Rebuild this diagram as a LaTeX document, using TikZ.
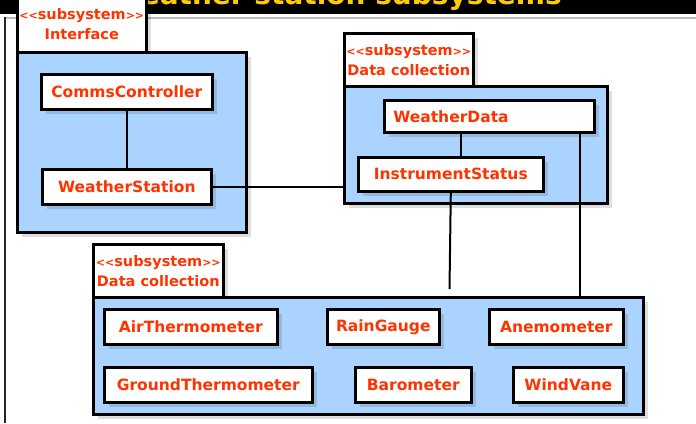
\documentclass[tikz,border=0pt]{standalone}
\usepackage{fontspec}
\setmainfont{DejaVu Sans}
\usepackage{xcolor}
\usetikzlibrary{shadows}
\definecolor{umlred}{RGB}{255,51,0}
\definecolor{pkgblue}{RGB}{170,212,255}
\definecolor{titleyellow}{RGB}{255,204,0}
\newcommand{\clsfont}{\fontsize{15.5}{18}\selectfont\bfseries}
\newcommand{\tabfont}{\fontsize{14.5}{20}\selectfont\bfseries}
\newcommand{\brk}[1]{{\fontsize{11}{11}\selectfont#1}}
\newcommand{\stereo}{\brk{<}\brk{<}subsystem\brk{>}\brk{>}}
\tikzset{
  shade/.style={drop shadow={shadow xshift=5pt,shadow yshift=-5pt,fill=black,opacity=0.13}},
  pkg/.style={draw,line width=2.6pt,fill=pkgblue,inner sep=0pt,anchor=north west,shade},
  pkgtab/.style={draw,line width=2.6pt,fill=white,text=umlred,font=\tabfont,align=center,inner sep=0pt,anchor=north west,shade},
  cls/.style={draw,line width=2.6pt,fill=white,text=umlred,font=\clsfont,inner sep=0pt,anchor=north west,shade},
  link/.style={line width=2pt}
}
\begin{document}
\begin{tikzpicture}[x=1pt,y=-1pt]
\useasboundingbox (0,0) rectangle (696,423);
\clip (0,0) rectangle (696,423);
\fill[white] (0,0) rectangle (696,423);
% slide frame
\begin{scope}
\clip (0,0) rectangle (696,14);
\fill[black] (0,0) rectangle (696,14);
\node[anchor=base east,text=titleyellow,font=\fontsize{28}{28}\selectfont\bfseries,inner sep=0pt] (title) at (562,5) {Weather station subsystems};
\end{scope}
\draw[gray!55,line width=1.5pt] (5,18) -- (696,18);
\draw[black!85,line width=1.5pt] (5,17) -- (5,423);
% packages
\node[pkgtab,minimum width=129pt,minimum height=56pt] (iftab) at (16,-5) {\stereo\\Interface};
\node[pkg,minimum width=229pt,minimum height=180pt] (ifbox) at (16,51) {};
\node[pkgtab,minimum width=129pt,minimum height=53pt] (dctab) at (343,32) {\stereo\\Data collection};
\node[pkg,minimum width=263pt,minimum height=117pt] (dcbox) at (343,85) {};
\node[pkgtab,minimum width=130pt,minimum height=54pt] (senstab) at (92,243) {\stereo\\Data collection};
\node[pkg,minimum width=550pt,minimum height=117pt] (sensbox) at (92,296) {};
% classes
\node[cls,minimum width=171pt,minimum height=35pt] (cc) at (40,73) {CommsController};
\node[cls,minimum width=169pt,minimum height=35pt] (ws) at (41,168) {WeatherStation};
\node[cls,text width=192pt,align=left,inner xsep=9pt,minimum height=32pt] (wd) at (383,99) {WeatherData};
\node[cls,minimum width=185pt,minimum height=34pt] (is) at (357,156) {InstrumentStatus};
\node[cls,minimum width=173pt,minimum height=35pt] (air) at (103,308) {AirThermometer};
\node[cls,minimum width=112pt,minimum height=35pt] (rain) at (326,308) {RainGauge};
\node[cls,minimum width=134pt,minimum height=35pt] (anemo) at (488,308) {Anemometer};
\node[cls,minimum width=208pt,minimum height=35pt] (ground) at (103,366) {GroundThermometer};
\node[cls,minimum width=116pt,minimum height=35pt] (baro) at (354,366) {Barometer};
\node[cls,minimum width=110pt,minimum height=35pt] (vane) at (512,366) {WindVane};
% links
\coordinate (isend) at (449.5,289);
\draw[link] (cc) -- (ws);
\draw[link] (ws.east) -- (ws.east -| dcbox.west);
\draw[link] ([xshift=10pt]is.north) -- ([xshift=10pt]is.north |- wd.south);
\draw[link] (is.south) -- (isend);
\draw[link] ([xshift=-16pt]wd.south east) -- ([xshift=-16pt]wd.south east |- sensbox.north);
\end{tikzpicture}
\end{document}
